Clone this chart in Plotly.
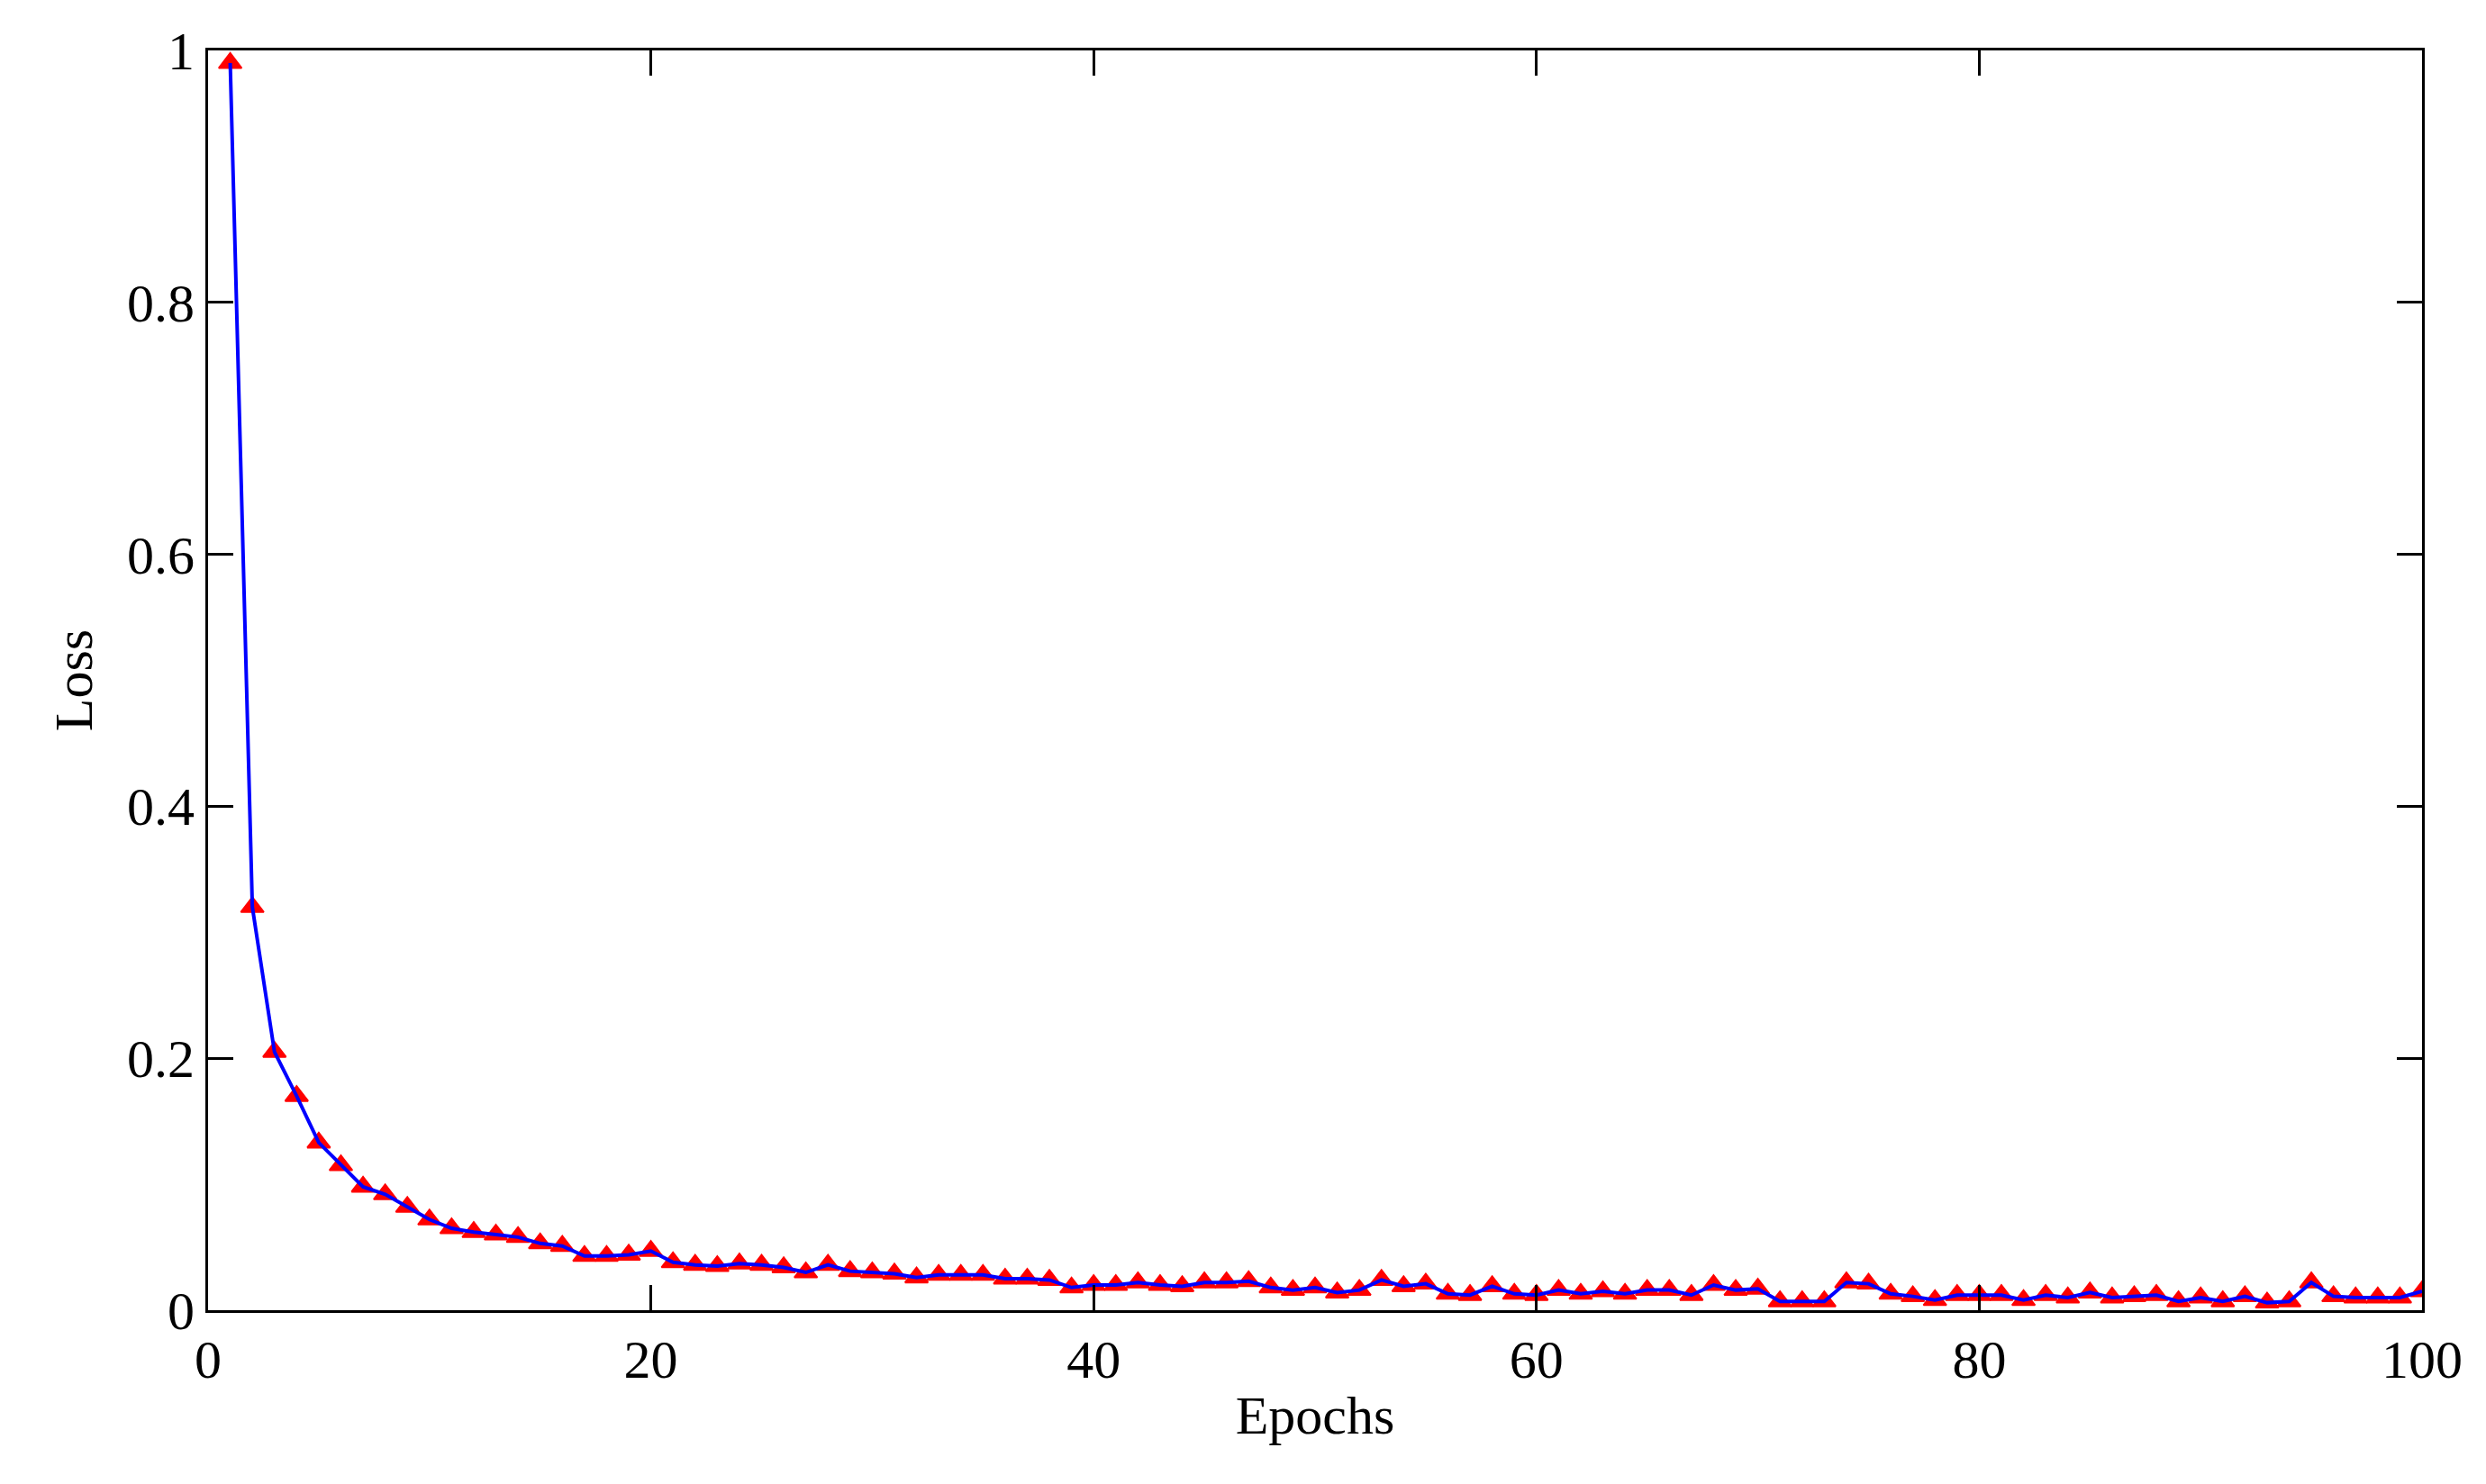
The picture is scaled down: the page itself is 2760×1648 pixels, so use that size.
import plotly.graph_objects as go

epochs = list(range(1, 101))
loss = [0.99, 0.32, 0.205, 0.17, 0.133, 0.115, 0.098, 0.092, 0.082, 0.072,
        0.065, 0.062, 0.060, 0.058, 0.053, 0.051, 0.043, 0.043, 0.044, 0.047,
        0.038, 0.036, 0.035, 0.037, 0.036, 0.034, 0.030, 0.036, 0.031, 0.030,
        0.029, 0.026, 0.028, 0.028, 0.028, 0.025, 0.025, 0.024, 0.018, 0.020,
        0.020, 0.022, 0.020, 0.019, 0.022, 0.022, 0.023, 0.018, 0.016, 0.018,
        0.014, 0.016, 0.024, 0.019, 0.021, 0.013, 0.012, 0.019, 0.013, 0.012,
        0.016, 0.013, 0.015, 0.013, 0.016, 0.016, 0.012, 0.020, 0.016, 0.017,
        0.007, 0.007, 0.007, 0.022, 0.021, 0.013, 0.011, 0.008, 0.012, 0.012,
        0.012, 0.008, 0.012, 0.010, 0.014, 0.010, 0.011, 0.012, 0.007, 0.010,
        0.007, 0.011, 0.006, 0.007, 0.022, 0.011, 0.010, 0.010, 0.010, 0.015]

fig = go.Figure()
fig.add_trace(go.Scatter(x=epochs, y=loss, mode='markers',
                         marker=dict(symbol='triangle-up', size=22, color='red',
                                     line=dict(color='red', width=2)),
                         showlegend=False))
fig.add_trace(go.Scatter(x=epochs, y=loss, mode='lines',
                         line=dict(color='blue', width=4), showlegend=False))

axis = dict(showgrid=False, zeroline=False, showline=True, linecolor='black',
            linewidth=3, mirror='allticks', ticks='inside', ticklen=28,
            tickwidth=3, tickcolor='black',
            tickfont=dict(family='Liberation Serif', size=60, color='black'))
fig.update_xaxes(axis, range=[0, 100], dtick=20,
                 title=dict(text='Epochs', standoff=8,
                            font=dict(family='Liberation Serif', size=60, color='black')))
fig.update_yaxes(axis, range=[0, 1], tickvals=[0, 0.2, 0.4, 0.6, 0.8, 1],
                 ticktext=['0', '0.2', '0.4', '0.6', '0.8', '1'],
                 title=dict(text='Loss', standoff=20,
                            font=dict(family='Liberation Serif', size=60, color='black')))
fig.update_layout(width=2760, height=1648, plot_bgcolor='white', paper_bgcolor='white',
                  margin=dict(l=223, r=79, t=48, b=201))
fig.write_html("out.html")
